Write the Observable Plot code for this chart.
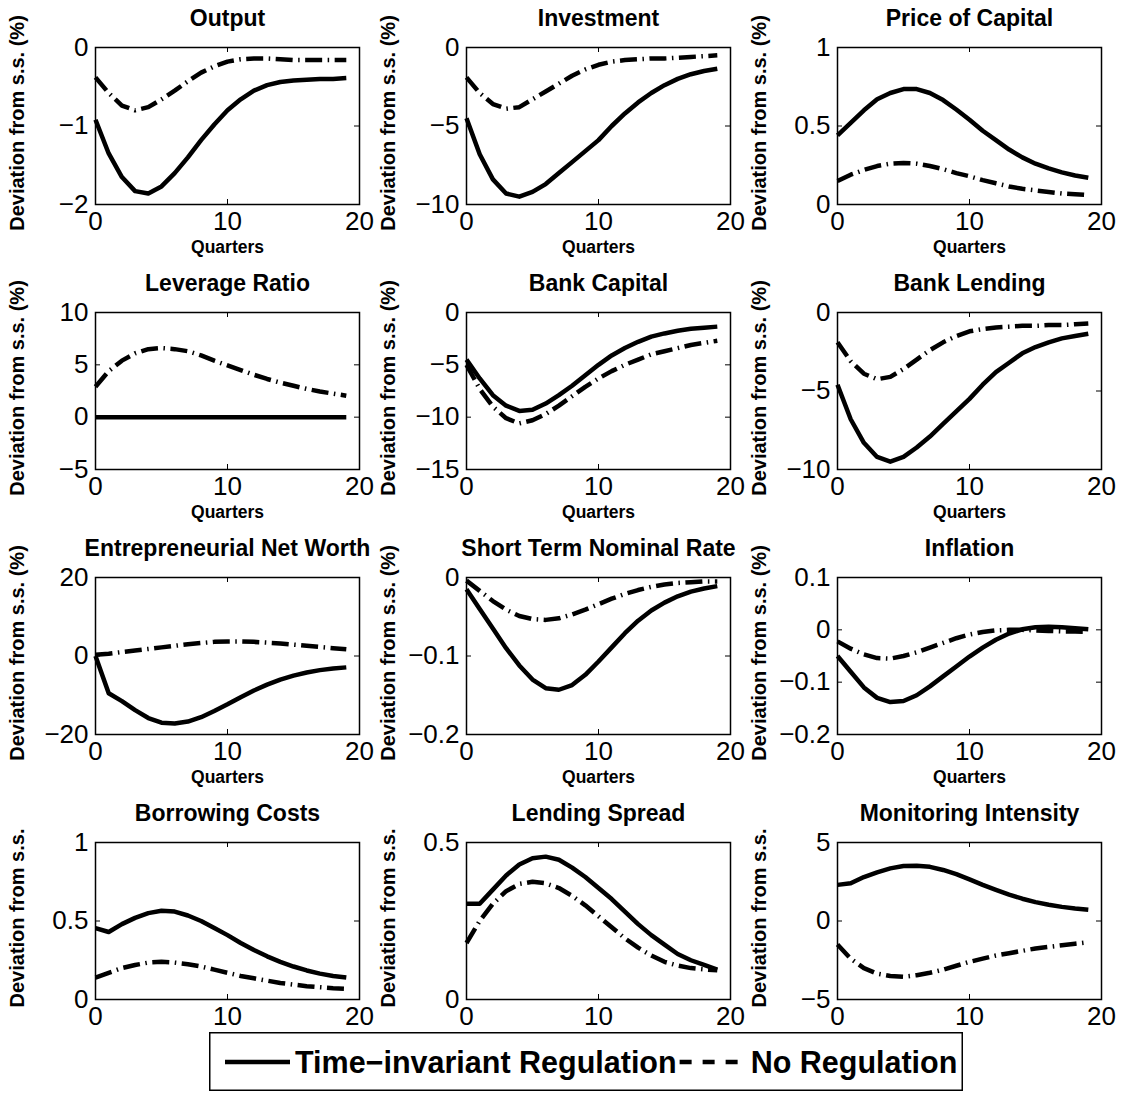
<!DOCTYPE html>
<html><head><meta charset="utf-8">
<script src="https://cdn.jsdelivr.net/npm/d3@7"></script>
<script src="https://cdn.jsdelivr.net/npm/@observablehq/plot@0.6"></script>
<style>
body{margin:0;background:#fff;}
#chart{position:relative;width:1122px;height:1102px;background:#fff;font-family:"Liberation Sans",Arial,sans-serif;}
.panel{position:absolute;}
#legend{position:absolute;left:209px;top:1032px;}
</style></head><body><div id="chart"></div>
<script>
// ---------------- data ----------------
const quarters = [0,1,2,3,4,5,6,7,8,9,10,11,12,13,14,15,16,17,18,19];
const xTicks = [0, 10, 20];
const seriesNames = ["Time\u2212invariant Regulation", "No Regulation"];

const titles = ["Output","Investment","Price of Capital","Leverage Ratio","Bank Capital","Bank Lending",
  "Entrepreneurial Net Worth","Short Term Nominal Rate","Inflation","Borrowing Costs","Lending Spread","Monitoring Intensity"];
const yLabelPct = "Deviation from s.s. (%)";
const yLabelPlain = "Deviation from s.s.";
const xLabel = "Quarters";

const yDomains = [[-2,0],[-10,0],[0,1],[-5,10],[-15,0],[-10,0],[-20,20],[-0.2,0],[-0.2,0.1],[0,1],[0,0.5],[-5,5]];
const yTicks = [[-2,-1,0],[-10,-5,0],[0,0.5,1],[-5,0,5,10],[-15,-10,-5,0],[-10,-5,0],[-20,0,20],[-0.2,-0.1,0],[-0.2,-0.1,0,0.1],[0,0.5,1],[0,0.5],[-5,0,5]];

// Time-invariant regulation (solid)
const outputReg = [-0.92,-1.35,-1.65,-1.83,-1.86,-1.77,-1.60,-1.40,-1.18,-0.98,-0.80,-0.66,-0.55,-0.48,-0.44,-0.42,-0.41,-0.40,-0.40,-0.39];
const investmentReg = [-4.5,-6.8,-8.4,-9.3,-9.5,-9.2,-8.7,-8.0,-7.3,-6.6,-5.9,-5.0,-4.2,-3.5,-2.9,-2.4,-2.0,-1.7,-1.5,-1.35];
const priceCapReg = [0.44,0.52,0.60,0.67,0.71,0.735,0.735,0.71,0.665,0.605,0.54,0.47,0.41,0.35,0.30,0.26,0.23,0.205,0.185,0.17];
const leverageReg = [0,0,0,0,0,0,0,0,0,0,0,0,0,0,0,0,0,0,0,0];
const bankCapReg = [-4.5,-6.3,-7.9,-8.9,-9.4,-9.3,-8.7,-7.9,-7.0,-6.0,-5.0,-4.1,-3.4,-2.8,-2.3,-2.0,-1.75,-1.55,-1.45,-1.35];
const bankLendReg = [-4.6,-6.8,-8.3,-9.2,-9.5,-9.2,-8.6,-7.9,-7.1,-6.3,-5.5,-4.6,-3.8,-3.2,-2.6,-2.2,-1.9,-1.65,-1.5,-1.35];
const netWorthReg = [0,-9.5,-11.5,-13.8,-15.8,-17.0,-17.2,-16.7,-15.6,-14.0,-12.3,-10.5,-8.8,-7.3,-6.0,-5.0,-4.2,-3.6,-3.2,-2.9];
const rateReg = [-0.015,-0.04,-0.065,-0.09,-0.112,-0.13,-0.141,-0.143,-0.137,-0.124,-0.107,-0.089,-0.071,-0.055,-0.042,-0.032,-0.024,-0.018,-0.014,-0.011];
const inflationReg = [-0.05,-0.08,-0.11,-0.13,-0.138,-0.136,-0.125,-0.108,-0.089,-0.07,-0.051,-0.034,-0.019,-0.007,0.001,0.005,0.006,0.005,0.003,0.001];
const borrowReg = [0.455,0.43,0.48,0.52,0.55,0.565,0.56,0.535,0.5,0.455,0.41,0.36,0.315,0.275,0.24,0.21,0.185,0.165,0.15,0.14];
const spreadReg = [0.305,0.305,0.35,0.395,0.43,0.45,0.455,0.445,0.42,0.39,0.355,0.32,0.28,0.24,0.205,0.175,0.145,0.125,0.11,0.095];
const monitorReg = [2.3,2.4,2.8,3.1,3.35,3.5,3.52,3.45,3.25,2.98,2.65,2.3,1.98,1.68,1.42,1.2,1.04,0.9,0.8,0.72];

// No regulation (dash-dot)
const outputNo = [-0.38,-0.58,-0.74,-0.80,-0.76,-0.66,-0.55,-0.43,-0.32,-0.24,-0.18,-0.15,-0.14,-0.14,-0.15,-0.16,-0.16,-0.16,-0.16,-0.16];
const investmentNo = [-1.9,-2.9,-3.6,-3.9,-3.8,-3.3,-2.8,-2.3,-1.8,-1.4,-1.1,-0.9,-0.8,-0.75,-0.7,-0.7,-0.65,-0.6,-0.55,-0.5];
const priceCapNo = [0.15,0.19,0.22,0.245,0.26,0.265,0.26,0.245,0.225,0.20,0.18,0.155,0.135,0.115,0.10,0.09,0.08,0.07,0.065,0.06];
const leverageNo = [2.9,4.4,5.4,6.1,6.5,6.6,6.5,6.3,5.9,5.4,4.95,4.5,4.05,3.65,3.3,3.0,2.7,2.45,2.25,2.05];
const bankCapNo = [-5.0,-7.3,-9.0,-10.1,-10.6,-10.3,-9.7,-8.9,-8.0,-7.1,-6.3,-5.6,-5.0,-4.5,-4.0,-3.7,-3.4,-3.1,-2.9,-2.7];
const bankLendNo = [-1.9,-3.1,-3.9,-4.25,-4.1,-3.6,-3.0,-2.4,-1.9,-1.5,-1.2,-1.05,-0.95,-0.9,-0.85,-0.85,-0.8,-0.8,-0.75,-0.7];
const netWorthNo = [0.3,0.6,1.0,1.4,1.8,2.2,2.6,3.0,3.3,3.6,3.7,3.7,3.6,3.4,3.2,2.9,2.6,2.3,2.0,1.7];
const rateNo = [-0.004,-0.017,-0.03,-0.041,-0.049,-0.053,-0.054,-0.052,-0.047,-0.041,-0.034,-0.027,-0.021,-0.016,-0.012,-0.009,-0.007,-0.006,-0.005,-0.005];
const inflationNo = [-0.022,-0.036,-0.047,-0.054,-0.055,-0.05,-0.043,-0.034,-0.025,-0.016,-0.009,-0.004,-0.001,0.0,0.0,-0.001,-0.002,-0.003,-0.003,-0.004];
const borrowNo = [0.14,0.17,0.2,0.22,0.235,0.24,0.235,0.225,0.21,0.19,0.17,0.15,0.135,0.12,0.105,0.095,0.085,0.078,0.072,0.068];
const spreadNo = [0.18,0.25,0.305,0.345,0.368,0.375,0.37,0.355,0.33,0.3,0.265,0.23,0.195,0.165,0.14,0.12,0.108,0.1,0.096,0.093];
const monitorNo = [-1.5,-2.4,-3.0,-3.35,-3.5,-3.55,-3.45,-3.3,-3.1,-2.85,-2.6,-2.4,-2.2,-2.05,-1.9,-1.75,-1.65,-1.55,-1.45,-1.35];

const regSeries = [outputReg,investmentReg,priceCapReg,leverageReg,bankCapReg,bankLendReg,netWorthReg,rateReg,inflationReg,borrowReg,spreadReg,monitorReg];
const noSeries = [outputNo,investmentNo,priceCapNo,leverageNo,bankCapNo,bankLendNo,netWorthNo,rateNo,inflationNo,borrowNo,spreadNo,monitorNo];

// ---------------- drawing ----------------
const FONT = "Liberation Sans, Arial, Helvetica, sans-serif";
const PW = 372, PH = 265, ML = 95, MR = 13, MT = 47, MB = 61;
const FW = PW - ML - MR, FH = PH - MT - MB;
const colLeft = [0, 371, 742];
const rowTop = [0, 265, 530, 795];
const DASHDOT = "17,5.5,1.5,5.5";
const fmt = d => (d < 0 ? "\u2212" : "") + String(Math.abs(d));

const chart = document.getElementById("chart");

titles.forEach((title, i) => {
  const row = Math.floor(i / 3), col = i % 3;
  const reg = quarters.map((q, k) => ({q, v: regSeries[i][k]}));
  const no = quarters.map((q, k) => ({q, v: noSeries[i][k]}));
  const marks = [
    Plot.line(reg, {x: "q", y: "v", stroke: "black", strokeWidth: 4.5, strokeLinecap: "butt", strokeLinejoin: "round"}),
    Plot.line(no, {x: "q", y: "v", stroke: "black", strokeWidth: 4.5, strokeLinecap: "butt", strokeLinejoin: "round", strokeDasharray: DASHDOT}),
    Plot.frame({stroke: "black", strokeWidth: 1.5}),
    Plot.tickX(xTicks, {x: d => d, insetBottom: FH - 5, stroke: "black", strokeWidth: 1}),
    Plot.tickX(xTicks, {x: d => d, insetTop: FH - 5, stroke: "black", strokeWidth: 1}),
    Plot.tickY(yTicks[i], {y: d => d, insetRight: FW - 5, stroke: "black", strokeWidth: 1}),
    Plot.tickY(yTicks[i], {y: d => d, insetLeft: FW - 5, stroke: "black", strokeWidth: 1}),
    Plot.axisX(xTicks, {tickSize: 0, tickPadding: 7, fontSize: 26, label: null, tickFormat: fmt}),
    Plot.axisY(yTicks[i], {tickSize: 0, tickPadding: 7, fontSize: 26, label: null, tickFormat: fmt}),
    Plot.text([title], {text: d => d, frameAnchor: "top", lineAnchor: "middle", dy: -29, fontSize: 23, fontWeight: "bold", fill: "black"}),
    Plot.text([row < 3 ? yLabelPct : yLabelPlain], {text: d => d, frameAnchor: "left", textAnchor: "middle", lineAnchor: "middle", rotate: -90, dx: -78, dy: -3, fontSize: 20, fontWeight: "bold", fill: "black"})
  ];
  if (row < 3) marks.push(Plot.text([xLabel], {text: d => d, frameAnchor: "bottom", lineAnchor: "middle", dy: 43, fontSize: 17.5, fontWeight: "bold", fill: "black"}));
  const svg = Plot.plot({
    width: PW, height: PH, marginLeft: ML, marginRight: MR, marginTop: MT, marginBottom: MB,
    x: {domain: [0, 20]}, y: {domain: yDomains[i]},
    style: {fontFamily: FONT, background: "transparent", overflow: "visible", color: "black"},
    marks
  });
  svg.classList.add("panel");
  svg.style.left = colLeft[col] + "px";
  svg.style.top = rowTop[row] + "px";
  chart.appendChild(svg);
});

// legend
const LW = 754, LH = 59;
const leg = d3.select(chart).append("svg").attr("id", "legend").attr("width", LW).attr("height", LH)
  .style("font-family", FONT);
leg.append("rect").attr("x", 0.75).attr("y", 0.75).attr("width", LW - 1.5).attr("height", LH - 1.5)
  .attr("fill", "white").attr("stroke", "black").attr("stroke-width", 1.5);
const cy = 30;
leg.append("line").attr("x1", 16).attr("x2", 81).attr("y1", cy).attr("y2", cy)
  .attr("stroke", "black").attr("stroke-width", 4.5);
const t1 = leg.append("text").attr("x", 86).attr("y", cy + 10.5).attr("font-size", 30.5).attr("font-weight", "bold").text(seriesNames[0]);
const l1 = t1.node().getComputedTextLength();
const sx = 86 + l1 + 3;
leg.append("line").attr("x1", sx).attr("x2", sx + 66).attr("y1", cy).attr("y2", cy)
  .attr("stroke", "black").attr("stroke-width", 4.5).attr("stroke-dasharray", "12,11");
leg.append("text").attr("x", sx + 71).attr("y", cy + 10.5).attr("font-size", 30.5).attr("font-weight", "bold").text(seriesNames[1]);
</script></body></html>
